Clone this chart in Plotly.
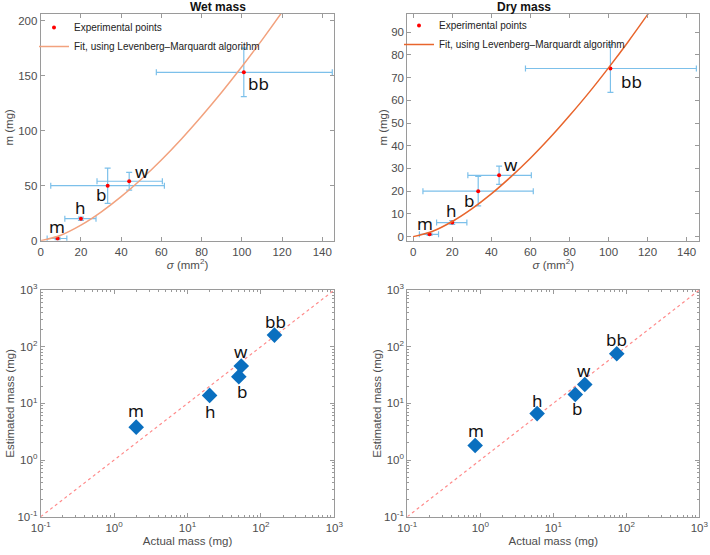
import numpy as np
import plotly.graph_objects as go

# Data
labels = ["m", "h", "b", "w", "bb"]
sigma = [8.4, 20, 33.3, 44, 101]
sigma_err_minus = [5.2, 8, 28.3, 16, 43.5]
sigma_err_plus = [4.6, 7.5, 28.2, 16.5, 44]

wet_mass = [2, 20, 50, 54, 153]
wet_mass_err = [1, 1.5, 16, 8, 22]
dry_mass = [1, 6.2, 20, 27, 74]
dry_mass_err = [0.5, 0.8, 6.5, 4, 10.5]

fit_sigma = [0, 10, 20, 30, 40, 50, 60, 70, 80, 90, 100, 110, 120, 125]
wet_fit = [0, 5.0, 14.1, 26.0, 40.0, 55.9, 73.4, 92.5, 113.1, 134.9, 158, 182.3, 207.7, 221]
dry_fit = [0, 2.35, 6.65, 12.2, 18.8, 26.3, 34.5, 43.5, 53.2, 63.4, 74.3, 85.7, 97.7, 103.8]

wet_actual = [2, 20, 50, 54, 153]
wet_estimated = [3.8, 13.8, 29.6, 45.6, 160]
dry_actual = [0.85, 6, 20, 27, 74]
dry_estimated = [1.8, 6.6, 14.3, 21.5, 75]

diag = [0.1, 1000]

W, H = 710, 555
FONT = "Liberation Sans, Arial, sans-serif"
LBL_FONT = "Noto Sans, Liberation Sans, sans-serif"
AX_COL = "#9a9a9a"
TXT_COL = "#4d4d4d"


def px_x(a, b):
    return [a / W, b / W]


def px_y(top, bottom):
    return [1 - bottom / H, 1 - top / H]


fig = go.Figure()

# ---- top panels
panels = [
    dict(xa="x", ya="y", m=wet_mass, merr=wet_mass_err, fit=wet_fit,
         fitcol="#f2a27e", legend="legend"),
    dict(xa="x2", ya="y2", m=dry_mass, merr=dry_mass_err, fit=dry_fit,
         fitcol="#e8652c", legend="legend2"),
]
for p in panels:
    fig.add_trace(go.Scatter(
        x=sigma, y=p["m"], mode="markers", name="Experimental points",
        marker=dict(color="red", size=4),
        error_x=dict(type="data", array=sigma_err_plus, arrayminus=sigma_err_minus,
                     color="#7cc0ea", thickness=1.2, width=3),
        error_y=dict(type="data", array=p["merr"], color="#7cc0ea",
                     thickness=1.2, width=3),
        xaxis=p["xa"], yaxis=p["ya"], legend=p["legend"]))
    fig.add_trace(go.Scatter(
        x=fit_sigma, y=p["fit"], mode="lines", line_shape="spline",
        name="Fit, using Levenberg\u2013Marquardt algorithm",
        line=dict(color=p["fitcol"], width=1.5),
        xaxis=p["xa"], yaxis=p["ya"], legend=p["legend"]))

# ---- bottom panels
for xa, ya, act, est in [("x3", "y3", wet_actual, wet_estimated),
                         ("x4", "y4", dry_actual, dry_estimated)]:
    fig.add_trace(go.Scatter(
        x=diag, y=diag, mode="lines", showlegend=False,
        line=dict(color="#ff8a8a", width=1.2, dash="dot"),
        xaxis=xa, yaxis=ya))
    fig.add_trace(go.Scatter(
        x=act, y=est, mode="markers", showlegend=False,
        marker=dict(symbol="diamond", color="#0a6fbf", size=12),
        xaxis=xa, yaxis=ya))

# ---- point labels
top_wet_shift = [(-1, 12), (0, 11), (-7, -9), (13, 10), (15, -11)]
top_dry_shift = [(-5, 11), (-1, 12), (-9, -9), (12, 11), (21, -13)]
bot_wet_shift = [(0, 17), (1, -16), (3, -15), (0, 15), (1, 14)]
bot_dry_shift = [(1, 15), (0, 13), (2, -14), (-1, 14), (0, 14)]

ann = []


def add_labels(xs, ys, shifts, xref, yref, log=False):
    for lab, xv, yv, (dx, dy) in zip(labels, xs, ys, shifts):
        ann.append(dict(
            x=np.log10(xv) if log else xv, y=np.log10(yv) if log else yv,
            xref=xref, yref=yref, text=lab, showarrow=False,
            xshift=dx, yshift=dy, font=dict(family=LBL_FONT, size=17, color="#111")))


add_labels(sigma, wet_mass, top_wet_shift, "x", "y")
add_labels(sigma, dry_mass, top_dry_shift, "x2", "y2")
add_labels(wet_actual, wet_estimated, bot_wet_shift, "x3", "y3", log=True)
add_labels(dry_actual, dry_estimated, bot_dry_shift, "x4", "y4", log=True)

# titles
for txt, xc in [("Wet mass", (40.7 + 334.3) / 2), ("Dry mass", (407.3 + 699.3) / 2)]:
    ann.append(dict(x=xc / W, y=1 - 7 / H, xref="paper", yref="paper", text="<b>%s</b>" % txt,
                    yanchor="middle", showarrow=False,
                    font=dict(family=FONT, size=12, color="#111")))

fig.update_layout(annotations=ann)

axis_common = dict(
    showline=True, linecolor=AX_COL, linewidth=1, mirror="ticks",
    ticks="inside", ticklen=4, tickcolor=AX_COL, showgrid=False, zeroline=False,
    automargin=False,
    tickfont=dict(family=FONT, size=11.5, color=TXT_COL),
    title_font=dict(family=FONT, size=11.5, color=TXT_COL),
)

sig_title = "<i>\u03c3</i> (mm<sup>2</sup>)"
lx = px_x(40.7, 334.3)
rx = px_x(407.3, 699.3)
ty = px_y(14, 240.7)
by = px_y(290, 516.7)

log_vals = [0.1, 1, 10, 100, 1000]
log_text = ["10<sup>-1</sup>", "10<sup>0</sup>", "10<sup>1</sup>", "10<sup>2</sup>", "10<sup>3</sup>"]
minor_vals = [m * d for d in [0.1, 1, 10, 100] for m in range(2, 10)]

log_axis = dict(axis_common, type="log", range=[-1, 3], tickmode="array",
                tickvals=log_vals, ticktext=log_text,
                minor=dict(ticks="inside", ticklen=2, tickcolor=AX_COL,
                           tickmode="array", tickvals=minor_vals, showgrid=False))

leg = dict(xanchor="left", yanchor="top", bgcolor="rgba(0,0,0,0)",
           font=dict(family=FONT, size=10, color="#222"),
           tracegroupgap=0, itemwidth=30)

fig.update_layout(
    width=W, height=H, margin=dict(l=0, r=0, t=0, b=0, autoexpand=False),
    paper_bgcolor="white", plot_bgcolor="white",
    xaxis=dict(axis_common, domain=lx, anchor="y", range=[0, 146], dtick=20,
               title=dict(text=sig_title, standoff=4)),
    yaxis=dict(axis_common, domain=ty, anchor="x", range=[0, 206], dtick=50,
               title=dict(text="m (mg)", standoff=2)),
    xaxis2=dict(axis_common, domain=rx, anchor="y2", range=[-3, 146.5], dtick=20,
                title=dict(text=sig_title, standoff=4)),
    yaxis2=dict(axis_common, domain=ty, anchor="x2", range=[-1.8, 98], dtick=10,
                title=dict(text="m (mg)", standoff=1)),
    xaxis3=dict(log_axis, domain=lx, anchor="y3",
                title=dict(text="Actual mass (mg)", standoff=4)),
    yaxis3=dict(log_axis, domain=by, anchor="x3",
                title=dict(text="Estimated mass (mg)", standoff=0)),
    xaxis4=dict(log_axis, domain=rx, anchor="y4",
                title=dict(text="Actual mass (mg)", standoff=4)),
    yaxis4=dict(log_axis, domain=by, anchor="x4",
                title=dict(text="Estimated mass (mg)", standoff=0)),
    legend=dict(leg, x=34 / W, y=1 - 13 / H),
    legend2=dict(leg, x=399 / W, y=1 - 11 / H),
)

fig.write_html("out.html", config={"displayModeBar": False},
               post_script="document.body.style.margin='0';")
